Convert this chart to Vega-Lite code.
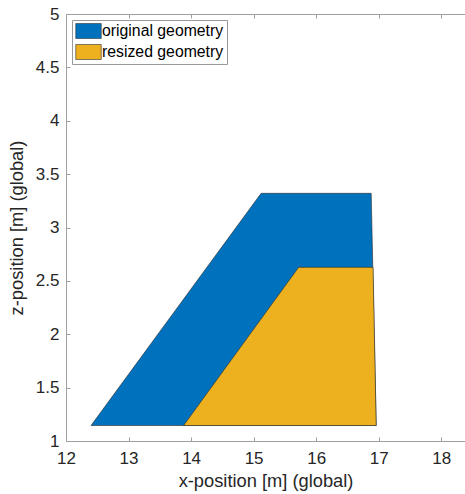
{
  "$schema": "https://vega.github.io/schema/vega-lite/v6.json",
  "width": 399,
  "height": 427,
  "autosize": "none",
  "padding": {"left": 66, "top": 14, "right": 0, "bottom": 53},
  "background": "white",
  "config": {
    "view": {"stroke": null},
    "font": "Liberation Sans",
    "axis": {
      "domainColor": "#a0a0a0",
      "tickColor": "#a0a0a0",
      "tickSize": -4,
      "grid": false,
      "labelFlush": false,
      "labelOverlap": false,
      "labelColor": "#262626",
      "titleColor": "#262626",
      "labelFontSize": 17,
      "titleFontSize": 18.3,
      "titleFontWeight": "normal",
      "labelFont": "Liberation Sans",
      "titleFont": "Liberation Sans"
    }
  },
  "data": {
    "values": [
      {"geometry": "original geometry", "i": 1, "x": 12.40, "y": 1.145},
      {"geometry": "original geometry", "i": 2, "x": 15.12, "y": 3.32},
      {"geometry": "original geometry", "i": 3, "x": 16.88, "y": 3.32},
      {"geometry": "original geometry", "i": 4, "x": 16.96, "y": 1.145},
      {"geometry": "original geometry", "i": 5, "x": 12.40, "y": 1.145},
      {"geometry": "resized geometry", "i": 1, "x": 13.88, "y": 1.145},
      {"geometry": "resized geometry", "i": 2, "x": 15.72, "y": 2.627},
      {"geometry": "resized geometry", "i": 3, "x": 16.91, "y": 2.627},
      {"geometry": "resized geometry", "i": 4, "x": 16.96, "y": 1.145},
      {"geometry": "resized geometry", "i": 5, "x": 13.88, "y": 1.145}
    ]
  },
  "layer": [
    {
      "mark": {"type": "line", "stroke": "#2a2a2a", "strokeWidth": 0.6, "interpolate": "linear"},
      "encoding": {
        "x": {
          "field": "x", "type": "quantitative",
          "scale": {"domain": [12, 18.38], "nice": false, "zero": false},
          "axis": {"orient": "bottom", "values": [12, 13, 14, 15, 16, 17, 18], "title": "x-position [m] (global)", "labelPadding": 13, "titlePadding": 6}
        },
        "y": {
          "field": "y", "type": "quantitative",
          "scale": {"domain": [1, 5], "nice": false, "zero": false},
          "axis": {"values": [1, 1.5, 2, 2.5, 3, 3.5, 4, 4.5, 5], "format": "~g", "title": "z-position [m] (global)", "labelPadding": 11, "titlePadding": 9}
        },
        "fill": {
          "field": "geometry", "type": "nominal",
          "scale": {"domain": ["original geometry", "resized geometry"], "range": ["#0072BD", "#EDB120"]},
          "legend": {
            "title": null,
            "orient": "top-left",
            "offset": 6,
            "symbolType": "M-1.7,-1H1.7V1H-1.7Z",
            "symbolSize": 225,
            "symbolOffset": 5.5,
            "symbolStrokeColor": "#333333",
            "symbolStrokeWidth": 0.6,
            "symbolOpacity": 1,
            "labelFontSize": 15.8,
            "labelColor": "#000000",
            "labelFont": "Liberation Sans",
            "labelOffset": 5.5,
            "rowPadding": 3,
            "padding": 3,
            "strokeColor": "#999999",
            "fillColor": "white"
          }
        },
        "order": {"field": "i", "type": "quantitative"}
      }
    },
    {
      "mark": {"type": "point", "opacity": 0},
      "encoding": {
        "x": {
          "field": "x", "type": "quantitative",
          "axis": {"orient": "top", "values": [12, 13, 14, 15, 16, 17, 18], "labels": false, "title": null}
        },
        "y": {"field": "y", "type": "quantitative"}
      }
    }
  ]
}
